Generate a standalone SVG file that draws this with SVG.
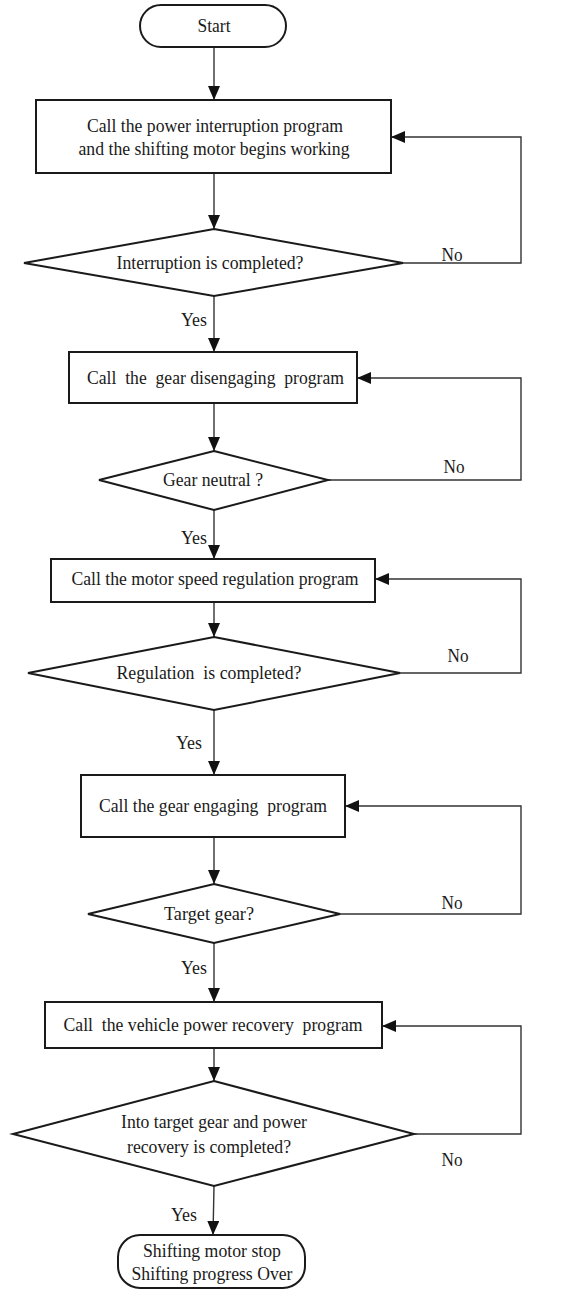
<svg xmlns="http://www.w3.org/2000/svg" width="584" height="1290" viewBox="0 0 584 1290">
<defs>
<marker id="ah" markerUnits="userSpaceOnUse" markerWidth="14" markerHeight="12" refX="14" refY="6" orient="auto">
<path d="M0,0 L14,6 L0,12 z" fill="#111"/>
</marker>
<style>
.box{fill:#fff;stroke:#1a1a1a;stroke-width:2}
.con{fill:none;stroke:#333;stroke-width:1.4;marker-end:url(#ah)}
.t{font-family:"Liberation Serif","Times New Roman",serif;font-size:18px;fill:#1a1a1a;text-anchor:middle}
</style>
</defs>
<rect width="584" height="1290" fill="#fff"/>
<g id="connectors">
<path class="con" d="M214 47 V100"/>
<path class="con" d="M214 173 V229"/>
<path class="con" d="M403 263 H521 V137 H391"/>
<path class="con" d="M214 296 V352"/>
<path class="con" d="M214 403 V451"/>
<path class="con" d="M328 480 H521 V378 H357"/>
<path class="con" d="M214 510 V559"/>
<path class="con" d="M214 602 V637"/>
<path class="con" d="M400 673 H521 V579 H375"/>
<path class="con" d="M214 710 V775"/>
<path class="con" d="M214 837 V884"/>
<path class="con" d="M340 914 H521 V806 H345"/>
<path class="con" d="M214 943 V1002"/>
<path class="con" d="M214 1048 V1081"/>
<path class="con" d="M414 1134 H521 V1026 H382"/>
<path class="con" d="M214 1186 L213 1235"/>
<text class="t" x="452" y="261" textLength="21" lengthAdjust="spacingAndGlyphs">No</text>
<text class="t" x="454" y="473" textLength="21" lengthAdjust="spacingAndGlyphs">No</text>
<text class="t" x="458" y="662" textLength="21" lengthAdjust="spacingAndGlyphs">No</text>
<text class="t" x="452" y="909" textLength="21" lengthAdjust="spacingAndGlyphs">No</text>
<text class="t" x="452" y="1166" textLength="21" lengthAdjust="spacingAndGlyphs">No</text>
<text class="t" x="194" y="326" textLength="26" lengthAdjust="spacingAndGlyphs">Yes</text>
<text class="t" x="194" y="544" textLength="26" lengthAdjust="spacingAndGlyphs">Yes</text>
<text class="t" x="189" y="749" textLength="26" lengthAdjust="spacingAndGlyphs">Yes</text>
<text class="t" x="194" y="974" textLength="26" lengthAdjust="spacingAndGlyphs">Yes</text>
<text class="t" x="184" y="1221" textLength="26" lengthAdjust="spacingAndGlyphs">Yes</text>
</g>
<g id="start">
<rect class="box" x="140" y="5" width="146" height="42" rx="21" ry="21"/>
<text class="t" x="214" y="32" textLength="33" lengthAdjust="spacingAndGlyphs">Start</text>
</g>
<g id="p1">
<rect class="box" x="36" y="100" width="355" height="73"/>
<text class="t" x="215" y="132" textLength="256" lengthAdjust="spacingAndGlyphs">Call the power interruption program</text>
<text class="t" x="214" y="155" textLength="271" lengthAdjust="spacingAndGlyphs">and the shifting motor begins working</text>
</g>
<g id="d1">
<polygon class="box" points="214,229 403,263 214,296 24,263"/>
<text class="t" x="210" y="269" textLength="187" lengthAdjust="spacingAndGlyphs">Interruption is completed?</text>
</g>
<g id="p2">
<rect class="box" x="69" y="352" width="288" height="51"/>
<text class="t" x="215.5" y="384" textLength="257" lengthAdjust="spacingAndGlyphs" xml:space="preserve">Call  the  gear disengaging  program</text>
</g>
<g id="d2">
<polygon class="box" points="214,451 328,480 214,510 99,480"/>
<text class="t" x="213" y="486" textLength="100" lengthAdjust="spacingAndGlyphs">Gear neutral ?</text>
</g>
<g id="p3">
<rect class="box" x="51" y="559" width="324" height="43"/>
<text class="t" x="215" y="585" textLength="287" lengthAdjust="spacingAndGlyphs">Call the motor speed regulation program</text>
</g>
<g id="d3">
<polygon class="box" points="214,637 400,673 214,710 28,673"/>
<text class="t" x="209" y="679" textLength="185" lengthAdjust="spacingAndGlyphs" xml:space="preserve">Regulation  is completed?</text>
</g>
<g id="p4">
<rect class="box" x="81" y="775" width="264" height="62"/>
<text class="t" x="213" y="812" textLength="228" lengthAdjust="spacingAndGlyphs" xml:space="preserve">Call the gear engaging  program</text>
</g>
<g id="d4">
<polygon class="box" points="214,884 340,914 214,943 88,914"/>
<text class="t" x="209" y="920" textLength="90" lengthAdjust="spacingAndGlyphs">Target gear?</text>
</g>
<g id="p5">
<rect class="box" x="45" y="1002" width="337" height="46"/>
<text class="t" x="213" y="1031" textLength="299" lengthAdjust="spacingAndGlyphs" xml:space="preserve">Call  the vehicle power recovery  program</text>
</g>
<g id="d5">
<polygon class="box" points="214,1081 414,1134 214,1186 13,1134"/>
<text class="t" x="214" y="1128" textLength="186" lengthAdjust="spacingAndGlyphs">Into target gear and power</text>
<text class="t" x="209" y="1153" textLength="164" lengthAdjust="spacingAndGlyphs">recovery is completed?</text>
</g>
<g id="end">
<rect class="box" x="118" y="1235" width="187" height="53" rx="22" ry="22"/>
<text class="t" x="212" y="1257" textLength="138" lengthAdjust="spacingAndGlyphs">Shifting motor stop</text>
<text class="t" x="212" y="1280" textLength="161" lengthAdjust="spacingAndGlyphs">Shifting progress Over</text>
</g>
</svg>
